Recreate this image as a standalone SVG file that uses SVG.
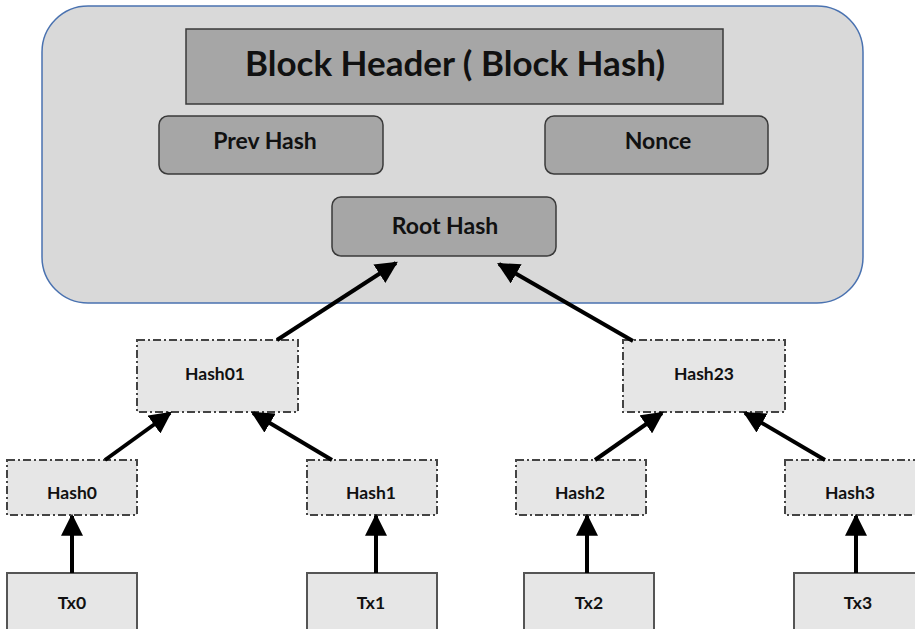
<svg xmlns="http://www.w3.org/2000/svg" width="915" height="629" viewBox="0 0 915 629">
<defs>
<marker id="ah" viewBox="0 0 10 10" refX="9" refY="5" markerWidth="5.5" markerHeight="5.5" markerUnits="strokeWidth" orient="auto">
<path d="M0,0 L10,5 L0,10 Z" fill="#000"/>
</marker>
<style>
text{font-family:Lato,"Open Sans","Liberation Sans",sans-serif;font-weight:bold;fill:#111;text-anchor:middle}
.dark{fill:#a6a6a6;stroke:#3a3a3a;stroke-width:1.5}
.hash{fill:#e6e6e6;stroke:#444;stroke-width:2;stroke-dasharray:8 3 2 3}
.tx{fill:#e6e6e6;stroke:#555;stroke-width:2}
.arr{stroke:#000;stroke-width:4;fill:none;marker-end:url(#ah)}
.t16{font-size:17.5px}
.t22{font-size:23px}
</style>
</defs>
<rect width="915" height="629" fill="#fff"/>
<g id="block">
<rect x="42" y="6" width="821" height="297" rx="46" fill="#d9d9d9" stroke="#4a72b0" stroke-width="1.5"/>
</g>
<g id="header">
<rect class="dark" x="186" y="29" width="537" height="75"/>
<text x="455" y="76" font-size="35">Block Header ( Block Hash)</text>
</g>
<g id="prevhash">
<rect class="dark" x="159" y="116" width="224" height="58" rx="9"/>
<text class="t22" x="265" y="149">Prev Hash</text>
</g>
<g id="nonce">
<rect class="dark" x="545" y="116" width="223" height="58" rx="9"/>
<text class="t22" x="658" y="149">Nonce</text>
</g>
<g id="roothash">
<rect class="dark" x="332" y="197" width="224" height="59" rx="9"/>
<text class="t22" x="445" y="234">Root Hash</text>
</g>
<g id="hash01"><rect class="hash" x="137" y="340" width="161" height="72"/><text class="t16" x="215" y="380">Hash01</text></g>
<g id="hash23"><rect class="hash" x="623" y="340" width="162" height="72"/><text class="t16" x="704" y="380">Hash23</text></g>
<g id="hash0"><rect class="hash" x="7" y="460" width="130" height="55"/><text class="t16" x="72" y="499">Hash0</text></g>
<g id="hash1"><rect class="hash" x="307" y="460" width="130" height="55"/><text class="t16" x="371" y="499">Hash1</text></g>
<g id="hash2"><rect class="hash" x="516" y="460" width="130" height="55"/><text class="t16" x="580" y="499">Hash2</text></g>
<g id="hash3"><rect class="hash" x="785" y="460" width="132" height="55"/><text class="t16" x="850" y="499">Hash3</text></g>
<g id="tx0"><rect class="tx" x="7" y="573" width="130" height="60"/><text class="t16" x="72" y="609">Tx0</text></g>
<g id="tx1"><rect class="tx" x="307" y="573" width="130" height="60"/><text class="t16" x="371" y="609">Tx1</text></g>
<g id="tx2"><rect class="tx" x="524" y="573" width="130" height="60"/><text class="t16" x="589" y="609">Tx2</text></g>
<g id="tx3"><rect class="tx" x="794" y="573" width="130" height="60"/><text class="t16" x="858" y="609">Tx3</text></g>
<g id="connectors">
<line class="arr" x1="277" y1="340" x2="396" y2="263"/>
<line class="arr" x1="633" y1="341" x2="499" y2="264"/>
<line class="arr" x1="105" y1="460" x2="170" y2="413"/>
<line class="arr" x1="332" y1="460" x2="253" y2="413"/>
<line class="arr" x1="595" y1="460" x2="662" y2="413"/>
<line class="arr" x1="825" y1="460" x2="745" y2="413"/>
<line class="arr" x1="72" y1="573" x2="72" y2="516"/>
<line class="arr" x1="376" y1="573" x2="376" y2="516"/>
<line class="arr" x1="587" y1="573" x2="587" y2="516"/>
<line class="arr" x1="856" y1="573" x2="856" y2="516"/>
</g>
</svg>
